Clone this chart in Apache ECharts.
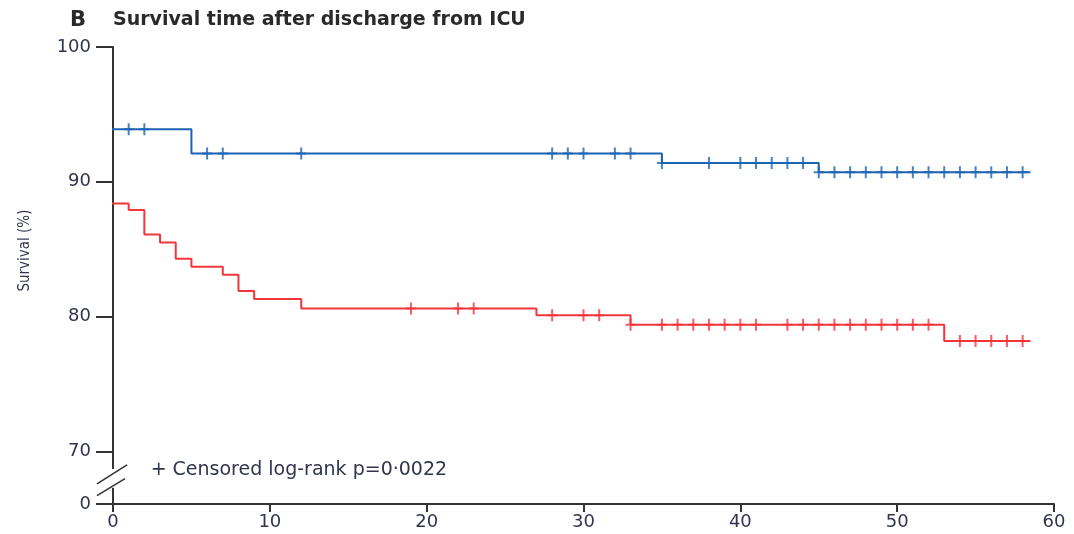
<!DOCTYPE html>
<html>
<head>
<meta charset="utf-8">
<title>Survival time after discharge from ICU</title>
<script src="https://cdn.jsdelivr.net/npm/echarts@6.0.0/dist/echarts.min.js"></script>
<style>
  html, body { margin: 0; padding: 0; background: #fff; }
  #survival-chart { width: 1074px; height: 534px; }
</style>
</head>
<body>
<div id="survival-chart"></div>
<script>
// step curves: event times and survival (%) after each event
var blueTimes = [-0.4, 5, 35, 45, 58.5];
var blueSurv = [93.9, 92.1, 91.4, 90.7, 90.7];
var blueCensor = [1, 2, 6, 7, 12, 28, 29, 30, 32, 33, 35, 38, 40, 41, 42, 43, 44, 45,
  46, 47, 48, 49, 50, 51, 52, 53, 54, 55, 56, 57, 58];

var redTimes = [-0.4, 1, 2, 3, 4, 5, 7, 8, 9, 12, 27, 33, 53, 58.5];
var redSurv = [88.4, 87.9, 86.1, 85.5, 84.3, 83.7, 83.1, 81.9, 81.3, 80.6, 80.1, 79.4, 78.2, 78.2];
var redCensor = [19, 22, 23, 28, 30, 31, 33, 35, 36, 37, 38, 39, 40, 41, 43, 44, 45,
  46, 47, 48, 49, 50, 51, 52, 54, 55, 56, 57, 58];

var xTicks = [0, 10, 20, 30, 40, 50, 60];
// 66.1 stands for the "0" below the axis break
var yTicks = [66.1, 70, 80, 90, 100];

var blue = '#1c63b3';
var red = '#f2363a';
var textColor = '#30344f';
var font = 'DejaVu Sans';

function pairs(times, surv) {
  var out = [];
  for (var i = 0; i < times.length; i++) out.push([times[i], surv[i]]);
  return out;
}

// survival level at time t on a step curve
function levelAt(times, surv, t) {
  var v = surv[0];
  for (var i = 0; i < times.length; i++) {
    if (times[i] <= t) v = surv[i];
  }
  return v;
}

function censorPoints(list, times, surv) {
  return list.map(function (t) { return [t, levelAt(times, surv, t)]; });
}

var plus = 'path://M-1,-6 L1,-6 L1,-1 L5,-1 L5,1 L1,1 L1,6 L-1,6 L-1,1 L-5,1 L-5,-1 L-1,-1 Z';

var chartDiv = document.getElementById('survival-chart');
var chart = echarts.init(chartDiv, null, { renderer: 'canvas' });

var option = {
  animation: false,
  title: {
    left: 65,
    top: 5,
    text: '{b|B}{t|Survival time after discharge from ICU}',
    textStyle: {
      rich: {
        b: { fontFamily: font, fontWeight: 'bold', fontSize: 21, color: '#2a2a2a', width: 43 },
        t: { fontFamily: font, fontWeight: 'bold', fontSize: 19, color: '#2a2a2a' }
      }
    }
  },
  grid: { left: 113, right: 20, top: 47, bottom: 30 },
  xAxis: {
    type: 'value',
    min: 0,
    max: 60,
    interval: 10,
    splitLine: { show: false },
    axisLine: { lineStyle: { color: '#333', width: 2 } },
    axisTick: { length: 8, lineStyle: { color: '#333', width: 2 } },
    axisLabel: {
      margin: 9,
      fontFamily: font,
      fontSize: 18,
      color: textColor,
      customValues: xTicks
    }
  },
  yAxis: {
    type: 'value',
    min: 66.1,
    max: 100,
    splitLine: { show: false },
    axisLine: { show: true, lineStyle: { color: '#333', width: 2 } },
    axisTick: { length: 17, lineStyle: { color: '#333', width: 2 }, customValues: yTicks },
    axisLabel: {
      margin: 22,
      fontFamily: font,
      fontSize: 18,
      color: textColor,
      customValues: yTicks,
      formatter: function (v) { return v < 70 ? '0' : String(v); }
    }
  },
  series: [
    {
      name: 'Blue',
      type: 'line',
      step: 'end',
      clip: false,
      symbol: 'none',
      data: pairs(blueTimes, blueSurv),
      lineStyle: { color: blue, width: 2 }
    },
    {
      name: 'Red',
      type: 'line',
      step: 'end',
      clip: false,
      symbol: 'none',
      data: pairs(redTimes, redSurv),
      lineStyle: { color: red, width: 2 }
    },
    {
      name: 'Blue censored',
      type: 'scatter',
      symbol: plus,
      symbolSize: [10, 12],
      data: censorPoints(blueCensor, blueTimes, blueSurv),
      itemStyle: { color: blue },
      z: 3
    },
    {
      name: 'Red censored',
      type: 'scatter',
      symbol: plus,
      symbolSize: [10, 12],
      data: censorPoints(redCensor, redTimes, redSurv),
      itemStyle: { color: red },
      z: 3
    }
  ]
};

chart.setOption(option);

// axis break, y-axis name and censor note, placed from the axis scales
function decorate() {
  var gapTop = chart.convertToPixel({ gridIndex: 0 }, [0, 68.7]);
  var gapBottom = chart.convertToPixel({ gridIndex: 0 }, [0, 67.3]);
  var s1 = chart.convertToPixel({ gridIndex: 0 }, [0, 68.3]);
  var s2 = chart.convertToPixel({ gridIndex: 0 }, [0, 67.35]);
  var note = chart.convertToPixel({ gridIndex: 0 }, [2.4, 68.6]);
  var nameY = chart.convertToPixel({ gridIndex: 0 }, [0, 84.9]);
  var ax = gapTop[0];

  chart.setOption({
    graphic: [
      {
        type: 'rect',
        shape: { x: ax - 3, y: gapTop[1], width: 6, height: gapBottom[1] - gapTop[1] },
        style: { fill: '#fff' },
        z: 10
      },
      {
        type: 'line',
        shape: { x1: ax - 16, y1: s1[1] + 9.5, x2: ax + 14, y2: s1[1] - 9.5 },
        style: { stroke: '#333', lineWidth: 1.6 },
        z: 11
      },
      {
        type: 'line',
        shape: { x1: ax - 16, y1: s2[1] + 8.5, x2: ax + 12, y2: s2[1] - 8.5 },
        style: { stroke: '#333', lineWidth: 1.6 },
        z: 11
      },
      {
        type: 'text',
        x: note[0],
        y: note[1],
        style: {
          text: '+ Censored log-rank p=0·0022',
          fontFamily: font,
          fontSize: 19,
          fill: textColor,
          verticalAlign: 'middle',
          align: 'left'
        },
        z: 11
      },
      {
        type: 'text',
        x: 25,
        y: nameY[1],
        rotation: Math.PI / 2,
        style: {
          text: 'Survival (%)',
          fontFamily: 'DejaVu Sans Condensed',
          fontSize: 15,
          fill: textColor,
          align: 'center',
          verticalAlign: 'middle'
        },
        z: 11
      }
    ]
  });
}

decorate();

window.addEventListener('resize', function () {
  setTimeout(function () {
    chart.resize();
    decorate();
  }, 200);
});
</script>
</body>
</html>
